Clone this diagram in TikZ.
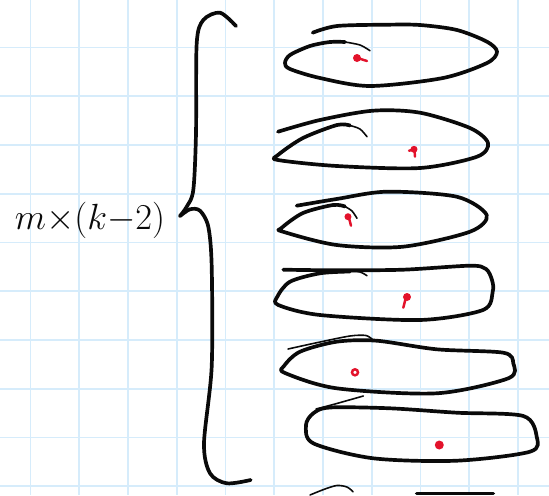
\documentclass[tikz,border=0pt]{standalone}
\usepackage{tikz}
\usepackage{xcolor}
\usepackage{amsmath}
\usetikzlibrary{positioning, calc}
\definecolor{cGRID}{RGB}{214,236,251}
\definecolor{cINK}{HTML}{0A0A0A}
\definecolor{cDOT}{HTML}{E3122B}
\tikzset{
  gridline/.style={
    draw=cGRID, line width=1.1pt
  },
  ink/.style={
    draw=cINK, line width=2.1pt,
    line cap=round, line join=round
  },
  inkthin/.style={
    ink, line width=0.9pt
  },
  dotmark/.style={
    fill=cDOT, draw=none
  },
  dotline/.style={
    draw=cDOT, line width=1.4pt, line cap=round
  },
  handlabel/.style={
    font=\fontsize{21}{23}\selectfont,
    text=cINK,
    inner sep=0pt
  }
}

\begin{document}
\begin{tikzpicture}[x=0.02cm, y=-0.02cm]
  \useasboundingbox (0,0) rectangle (549,495);
  \fill[white] (0,0) rectangle (549,495);

  % squared paper
  \foreach \i in {0,...,10}
    \draw[gridline] (30.5+48.75*\i,0) -- ++(0,495);
  \foreach \j in {0,...,9}
    \draw[gridline] (0,47.5+48.75*\j) -- ++(549,0);

  % label and brace
  \node[handlabel] (count) at (90,220) {$m{\times}(k{-}2)$};
  \coordinate (tip) at (180,216);
  \draw[ink] plot[smooth] coordinates {(236,26) (220,12.7) (203.3,20) (196.7,43.3) (196,133.3) (193.3,190) (186.7,206.7) (tip)};
  \draw[ink] plot[smooth] coordinates {(tip) (190,209.3) (200,210.7) (208.3,226.7) (211.7,266.7) (211.7,366.7) (204,443.3) (210,473.3) (226.7,483.3) (250.7,480)};

  % loop 1
  \draw[ink] plot[smooth] coordinates {(312.7,32.7) (337,26) (387,24.7) (420,25) (457,30) (487,41.7) (497,51.7) (487,63) (443,78) (370,86) (320,78) (290,69) (285,63) (290,55) (310,46) (330,42) (345,42)};
  \draw[inkthin] plot[smooth] coordinates {(345,42) (360,45) (370,50.7)};
  \fill[dotmark] (357,58) circle (4);
  \draw[dotline] (359,58.5) -- (367,61);

  % loop 2
  \draw[ink] plot[smooth] coordinates {(278,131.7) (320,120) (373,110.7) (420,112.7) (470,128) (488,143) (477,156.7) (420,168) (337,166) (278,160) (278,155) (303,138) (337,125) (350,125.5)};
  \draw[inkthin] plot[smooth] coordinates {(350,125.5) (360,129) (367,136.7)};
  \fill[dotmark] (414,149.3) circle (3.5);
  \draw[dotline] (414.5,150) -- (415,156.7);
  \draw[dotline] (412,150) -- (409,150.7);

  % loop 3
  \draw[ink] plot[smooth] coordinates {(296.7,205.7) (336.7,199) (386.7,191.7) (456.7,196.7) (486.7,215) (470,231.7) (403,246.7) (336.7,245) (283,231.7) (281.5,228) (303,213) (333,205) (345,206.5)};
  \draw[inkthin] plot[smooth] coordinates {(345,206.5) (352,211) (357,218.3)};
  \fill[dotmark] (348,216.7) circle (3.5);
  \draw[dotline] (349,218) -- (351,225.7);

  % loop 4
  \draw[ink] plot[smooth] coordinates {(283.3,269.7) (336.7,270.3) (403,269.7) (470,265.7) (486,269) (492,280) (492.7,291.7) (483,310) (420,320) (320,315) (278.3,305) (277.3,296.7) (290,281.7) (320,273.3) (350,271.5)};
  \draw[inkthin] plot[smooth] coordinates {(350,271.5) (360,272) (367,275.7)};
  \fill[dotmark] (407,297) circle (4);
  \draw[dotline] (405.5,299) -- (403.3,307.7);

  % loop 5
  \draw[inkthin] plot[smooth] coordinates {(288,349) (320,342) (350,336) (366,335.5) (373,340)};
  \draw[ink] plot[smooth cycle] coordinates {(376.7,340.7) (436.7,349.3) (503.3,352.7) (513.3,363.3) (508.3,378.3) (436.7,393.3) (336.7,388.3) (285,373) (284,366) (300,351.7) (336.7,341.7)};
  \draw[dotline] (355,372.3) circle (3);

  % loop 6
  \draw[inkthin] plot[smooth] coordinates {(363.3,396) (335,404) (316,409)};
  \draw[ink] plot[smooth cycle] coordinates {(390,408.3) (456.7,412.7) (523.3,416) (536.7,436.7) (530,451.7) (456.7,460.7) (373.3,458.3) (313.3,443.3) (306,425) (313.3,413.3) (330,407.5)};
  \fill[dotmark] (439.3,445) circle (4.5);

  % next loop, cut off
  \draw[inkthin] plot[smooth] coordinates {(310,495) (325,489) (337,485.5) (347,487) (353,491.7)};
  \draw[ink] (416.7,493.5) -- (493.3,493.5);
\end{tikzpicture}
\end{document}
